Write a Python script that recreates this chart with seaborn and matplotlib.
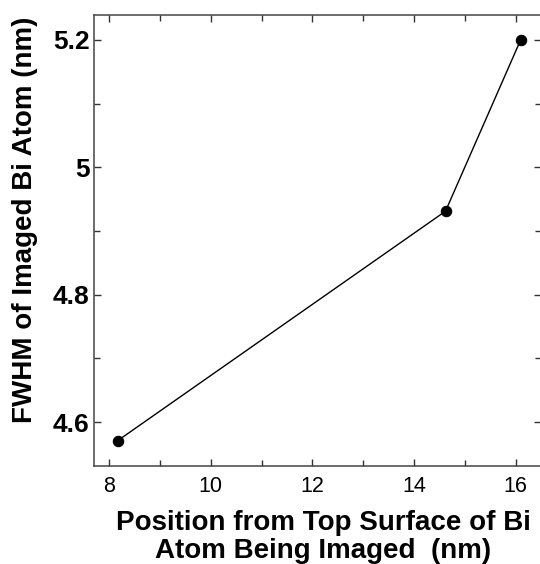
import numpy as np
import pandas as pd
import matplotlib
matplotlib.use('Agg')
import matplotlib.pyplot as plt
from matplotlib.ticker import MultipleLocator, FixedLocator
import seaborn as sns

# data
position_nm = [8.17, 14.62, 16.10]
fwhm_nm     = [4.571, 4.931, 5.200]
xticks      = [8, 10, 12, 14, 16]
yticks      = [4.6, 4.8, 5.0, 5.2]
ytick_labels = ['4.6', '4.8', '5', '5.2']

df = pd.DataFrame({'pos': position_nm, 'fwhm': fwhm_nm})

sns.set_style('ticks')
plt.rcParams['font.family'] = ['Liberation Sans', 'DejaVu Sans']
plt.rcParams['text.color'] = 'black'
plt.rcParams['xtick.labelcolor'] = 'black'
plt.rcParams['ytick.labelcolor'] = 'black'

fig = plt.figure(figsize=(5.4, 5.64), dpi=100)
ax = fig.add_axes([94/540, 1 - 466/564, (541 - 94)/540, (466 - 15)/564])

sns.lineplot(data=df, x='pos', y='fwhm', ax=ax, color='black', lw=1.0,
             marker='o', markersize=7.5, markeredgecolor='black',
             markerfacecolor='black')

ax.set_xlim(7.7, 16.5)
ax.set_ylim(4.531, 5.239)
ax.xaxis.set_major_locator(FixedLocator(xticks))
ax.xaxis.set_minor_locator(MultipleLocator(1))
ax.yaxis.set_major_locator(FixedLocator(yticks))
ax.yaxis.set_minor_locator(MultipleLocator(0.1))
ax.set_yticklabels(ytick_labels, fontsize=19, fontweight='bold', color='black')
ax.set_xticklabels([str(t) for t in xticks], fontsize=15.5, color='black')

ax.tick_params(which='both', direction='in', top=True, right=True,
               color='#333333', width=1.0)
ax.tick_params(which='major', length=5)
ax.tick_params(which='minor', length=4.5)
ax.tick_params(axis='x', which='major', pad=7)
ax.tick_params(axis='y', which='major', pad=3)

for s in ax.spines.values():
    s.set_color('#444444')
    s.set_linewidth(1.1)

ax.set_xlabel('')
ax.set_ylabel('')
fig.text(25/540, 1 - 220/564, 'FWHM of Imaged Bi Atom (nm)', rotation=90,
         ha='center', va='center', fontsize=20, fontweight='bold', color='black')
fig.text(323/540, 1 - 537/564,
         'Position from Top Surface of Bi\nAtom Being Imaged  (nm)',
         ha='center', va='center', multialignment='center',
         fontsize=20, fontweight='bold', linespacing=1.12, color='black')

fig.savefig('out.png', dpi=100)
